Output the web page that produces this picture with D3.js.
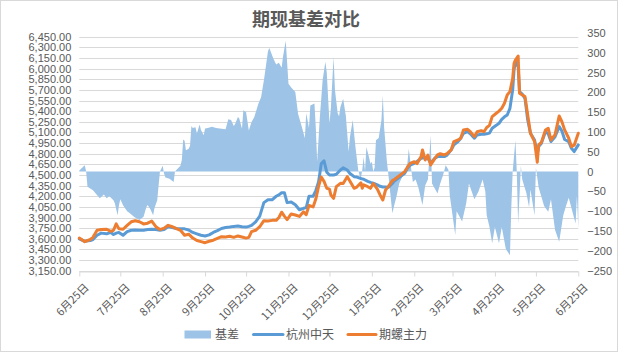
<!DOCTYPE html>
<html>
<head>
<meta charset="utf-8">
<script src="https://cdn.jsdelivr.net/npm/d3@7/dist/d3.min.js"></script>
<style>
  body { margin: 0; background: #fff; }
  text { font-family: "Noto Sans CJK SC", "Liberation Sans", sans-serif; }
  .num text { font-family: "Liberation Sans", Arial, sans-serif; }
</style>
</head>
<body>
<div id="chart"></div>
<script>
// 月度刻度
const monthTicks = ["2020-06-25", "2020-07-25", "2020-08-25", "2020-09-25", "2020-10-25", "2020-11-25",
  "2020-12-25", "2021-01-25", "2021-02-25", "2021-03-25", "2021-04-25", "2021-05-25", "2021-06-25"];

// 杭州中天 / 期螺主力 价格
const lineDates = ["2020-06-25", "2020-06-29", "2020-07-03", "2020-07-05", "2020-07-08", "2020-07-11", "2020-07-15",
  "2020-07-18", "2020-07-20", "2020-07-22", "2020-07-24", "2020-07-27", "2020-07-30", "2020-08-02", "2020-08-05",
  "2020-08-08", "2020-08-11", "2020-08-14", "2020-08-17", "2020-08-20", "2020-08-23", "2020-08-26", "2020-08-29",
  "2020-09-01", "2020-09-04", "2020-09-07", "2020-09-10", "2020-09-13", "2020-09-16", "2020-09-19", "2020-09-22",
  "2020-09-25", "2020-09-28", "2020-10-01", "2020-10-04", "2020-10-07", "2020-10-10", "2020-10-13", "2020-10-16",
  "2020-10-19", "2020-10-22", "2020-10-25", "2020-10-27", "2020-10-29", "2020-11-01", "2020-11-04", "2020-11-07",
  "2020-11-10", "2020-11-13", "2020-11-16", "2020-11-18", "2020-11-20", "2020-11-22", "2020-11-24", "2020-11-27",
  "2020-11-30", "2020-12-03", "2020-12-06", "2020-12-08", "2020-12-10", "2020-12-13", "2020-12-15", "2020-12-17",
  "2020-12-19", "2020-12-21", "2020-12-23", "2020-12-25", "2020-12-26", "2020-12-28", "2020-12-30", "2021-01-02",
  "2021-01-04", "2021-01-07", "2021-01-09", "2021-01-12", "2021-01-14", "2021-01-17", "2021-01-18", "2021-01-19",
  "2021-01-22", "2021-01-24", "2021-01-26", "2021-01-29", "2021-01-31", "2021-02-02", "2021-02-04", "2021-02-06",
  "2021-02-09", "2021-02-10", "2021-02-18", "2021-02-20", "2021-02-22", "2021-02-25", "2021-02-27", "2021-03-02",
  "2021-03-03", "2021-03-05", "2021-03-07", "2021-03-09", "2021-03-12", "2021-03-14", "2021-03-16", "2021-03-19",
  "2021-03-21", "2021-03-24", "2021-03-26", "2021-03-29", "2021-03-31", "2021-04-02", "2021-04-05", "2021-04-07",
  "2021-04-10", "2021-04-12", "2021-04-15", "2021-04-17", "2021-04-19", "2021-04-21", "2021-04-23", "2021-04-26",
  "2021-04-28", "2021-04-30", "2021-05-02", "2021-05-04", "2021-05-06", "2021-05-08", "2021-05-09", "2021-05-10",
  "2021-05-12", "2021-05-13", "2021-05-15", "2021-05-17", "2021-05-19", "2021-05-21", "2021-05-24", "2021-05-26",
  "2021-05-27", "2021-05-29", "2021-06-01", "2021-06-03", "2021-06-05", "2021-06-08", "2021-06-11", "2021-06-13",
  "2021-06-15", "2021-06-18", "2021-06-20", "2021-06-22", "2021-06-25"];

const hzzt = [3600, 3565, 3575, 3590, 3650, 3680, 3670, 3690, 3660, 3680, 3690, 3650, 3700, 3720, 3725,
  3720, 3720, 3730, 3735, 3730, 3720, 3730, 3770, 3760, 3745, 3740, 3740, 3725, 3690, 3670, 3650,
  3640, 3655, 3690, 3715, 3745, 3760, 3765, 3775, 3780, 3770, 3765, 3775, 3790, 3840, 3920, 4110,
  4150, 4150, 4200, 4220, 4250, 4250, 4110, 4120, 4080, 4010, 4030, 4040, 4200, 4200, 4280, 4400,
  4660, 4700, 4540, 4500, 4500, 4500, 4510, 4570, 4600, 4570, 4520, 4476, 4470, 4450, 4445, 4440,
  4410, 4395, 4385, 4360, 4340, 4330, 4330, 4326, 4380, 4406, 4523, 4594, 4640, 4665, 4690, 4735,
  4740, 4745, 4735, 4665, 4735, 4759, 4765, 4759, 4780, 4853, 4924, 4971, 5018, 5088, 5112, 5080,
  5018, 5065, 5075, 5075, 5080, 5090, 5159, 5200, 5229, 5285, 5320, 5346, 5440, 5700, 5981, 6098,
  6027, 5675, 5640, 5581, 5276, 5088, 4994, 4800, 4900, 4947, 5112, 5080, 4971, 5040, 5182, 5120,
  5000, 4971, 4876, 4830, 4924];

const qlzl = [3610, 3560, 3590, 3620, 3720, 3730, 3735, 3705, 3720, 3810, 3740, 3735, 3790, 3840, 3855,
  3840, 3810, 3820, 3850, 3770, 3730, 3750, 3790, 3770, 3745, 3720, 3650, 3665, 3610, 3575, 3560,
  3545, 3565, 3580, 3605, 3630, 3625, 3635, 3620, 3640, 3625, 3610, 3620, 3700, 3720, 3770, 3855,
  3850, 3860, 3860, 3900, 3975, 3920, 3870, 3950, 3935, 3915, 3980, 3940, 4070, 4050, 4160, 4340,
  4470, 4410, 4312, 4300, 4218, 4171, 4335, 4382, 4380, 4476, 4410, 4312, 4330, 4390, 4312, 4360,
  4335, 4312, 4380, 4300, 4218, 4147, 4288, 4335, 4420, 4430, 4547, 4610, 4665, 4688, 4660, 4759,
  4853, 4712, 4780, 4641, 4730, 4782, 4800, 4782, 4800, 4853, 4971, 4994, 5018, 5135, 5144, 5110,
  5041, 5110, 5125, 5110, 5170, 5200, 5323, 5370, 5400, 5440, 5511, 5628, 5675, 5863, 6075, 6120,
  6178, 5652, 5628, 5605, 5346, 5088, 4971, 4680, 4924, 4960, 5135, 5159, 4994, 5070, 5332, 5252,
  5135, 5018, 4900, 4920, 5088];

// 基差（右轴）
const basisDates = ["2020-06-25", "2020-06-29", "2020-06-30", "2020-07-01", "2020-07-05", "2020-07-07", "2020-07-10",
  "2020-07-13", "2020-07-15", "2020-07-17", "2020-07-20", "2020-07-21", "2020-07-23", "2020-07-24", "2020-07-25",
  "2020-07-27", "2020-07-30", "2020-08-01", "2020-08-04", "2020-08-06", "2020-08-08", "2020-08-11", "2020-08-13",
  "2020-08-14", "2020-08-16", "2020-08-18", "2020-08-19", "2020-08-21", "2020-08-22", "2020-08-23", "2020-08-25",
  "2020-08-26", "2020-08-27", "2020-08-30", "2020-09-02", "2020-09-03", "2020-09-04", "2020-09-07", "2020-09-08",
  "2020-09-09", "2020-09-10", "2020-09-11", "2020-09-13", "2020-09-14", "2020-09-15", "2020-09-16", "2020-09-18",
  "2020-09-19", "2020-09-21", "2020-09-22", "2020-09-24", "2020-09-25", "2020-09-27", "2020-09-30", "2020-10-03",
  "2020-10-10", "2020-10-12", "2020-10-14", "2020-10-16", "2020-10-17", "2020-10-19", "2020-10-20", "2020-10-22",
  "2020-10-23", "2020-10-25", "2020-10-27", "2020-10-29", "2020-10-31", "2020-11-03", "2020-11-05", "2020-11-07",
  "2020-11-08", "2020-11-10", "2020-11-11", "2020-11-14", "2020-11-16", "2020-11-18", "2020-11-20", "2020-11-21",
  "2020-11-23", "2020-11-25", "2020-11-27", "2020-11-30", "2020-12-02", "2020-12-05", "2020-12-07", "2020-12-08",
  "2020-12-10", "2020-12-11", "2020-12-14", "2020-12-15", "2020-12-16", "2020-12-18", "2020-12-20", "2020-12-22",
  "2020-12-23", "2020-12-25", "2020-12-26", "2020-12-28", "2020-12-29", "2020-12-31", "2021-01-01", "2021-01-02",
  "2021-01-04", "2021-01-06", "2021-01-08", "2021-01-09", "2021-01-11", "2021-01-13", "2021-01-15", "2021-01-16",
  "2021-01-17", "2021-01-18", "2021-01-19", "2021-01-20", "2021-01-21", "2021-01-23", "2021-01-24", "2021-01-25",
  "2021-01-26", "2021-01-27", "2021-01-28", "2021-01-30", "2021-02-01", "2021-02-02", "2021-02-03", "2021-02-05",
  "2021-02-06", "2021-02-07", "2021-02-09", "2021-02-10", "2021-02-12", "2021-02-14", "2021-02-16", "2021-02-18",
  "2021-02-20", "2021-02-21", "2021-02-23", "2021-02-24", "2021-02-26", "2021-02-28", "2021-03-03", "2021-03-05",
  "2021-03-07", "2021-03-09", "2021-03-10", "2021-03-14", "2021-03-16", "2021-03-18", "2021-03-20", "2021-03-22",
  "2021-03-23", "2021-03-27", "2021-03-28", "2021-04-01", "2021-04-04", "2021-04-06", "2021-04-10", "2021-04-13",
  "2021-04-16", "2021-04-18", "2021-04-19", "2021-04-21", "2021-04-23", "2021-04-25", "2021-04-28", "2021-04-30",
  "2021-05-03", "2021-05-06", "2021-05-07", "2021-05-08", "2021-05-10", "2021-05-11", "2021-05-12", "2021-05-13",
  "2021-05-14", "2021-05-15", "2021-05-18", "2021-05-20", "2021-05-21", "2021-05-24", "2021-05-25", "2021-05-27",
  "2021-05-31", "2021-06-03", "2021-06-05", "2021-06-08", "2021-06-11", "2021-06-14", "2021-06-16", "2021-06-18",
  "2021-06-23", "2021-06-24", "2021-06-25"];

const basis = [3, 16, 0, -38, -47, -55, -67,
  -58, -67, -62, -72, -80, -110, -85, -70,
  -85, -100, -105, -114, -118, -122, -114, -90,
  -84, -95, -110, -92, -72, -35, 0, 15,
  -5, -15, -18, -26, 0, 4, 15, 29,
  81, 78, 54, 58, 65, 115, 110, 112,
  96, 119, 105, 92, 109, 110, 113, 110,
  107, 132, 130, 115, 120, 138, 134, 108,
  155, 150, 104, 125, 138, 171, 188, 230,
  254, 304, 312, 285, 270, 275, 262, 290,
  330, 222, 212, 201, 146, 110, 84, 147,
  110, 167, 172, 110, 25, 140, 231, 277,
  250, 122, 160, 289, 206, 147, 140, 163,
  184, 140, 50, 88, 130, 62, 4, -9,
  -16, 5, 37, 0, 62, 35, 20, 25,
  0, 10, 79, 85, 130, 192, 110, 25,
  -5, -38, -105, -90, -63, -30, -15, 0,
  21, 58, 0, -26, -20, -40, -84, -35,
  -20, 92, -30, -55, -30, -10, 16, 5,
  -60, -160, -100, -126, -80, -30, -70, -50,
  -20, -50, -110, -139, -181, -140, -181, -140,
  -195, -211, -90, 0, 79, 0, -131, -60,
  15, -20, -54, -90, -45, -110, 10, -40,
  -87, -101, -70, -147, -177, -110, -87, -66,
  -131, -60, -143];

const leftTicks = d3.range(3150, 6451, 150);
const rightTicks = d3.range(-250, 351, 50);

const width = 618, height = 352;
const plot = { left: 79.3, right: 578.3, top: 36.7, bottom: 270.7 };
const parse = d3.utcParse("%Y-%m-%d");

const svg = d3.select("#chart").append("svg")
  .attr("width", width)
  .attr("height", height);

// 边框
svg.append("rect")
  .attr("x", 0.5).attr("y", 0.5)
  .attr("width", width - 1).attr("height", height - 1)
  .attr("fill", "#fff").attr("stroke", "#d9d9d9");

const x = d3.scaleUtc()
  .domain([parse(monthTicks[0]), parse(monthTicks[monthTicks.length - 1])])
  .range([plot.left, plot.right]);
const y = d3.scaleLinear().domain([3150, 6450]).range([plot.bottom, plot.top]);
const y2 = d3.scaleLinear().domain([-250, 350]).range([plot.bottom, 32.9]);

// 网格线
svg.append("g")
  .selectAll("line")
  .data(leftTicks)
  .enter().append("line")
  .attr("x1", plot.left).attr("x2", plot.right)
  .attr("y1", d => Math.round(y(d)) + 0.5).attr("y2", d => Math.round(y(d)) + 0.5)
  .attr("stroke", "#d9d9d9").attr("stroke-width", 1);

// 基差面积
const basisData = basisDates.map((d, i) => ({ date: parse(d), v: basis[i] }));
const area = d3.area()
  .x(d => x(d.date))
  .y0(y2(0))
  .y1(d => y2(d.v));
svg.append("path")
  .datum(basisData)
  .attr("d", area)
  .attr("fill", "#9dc3e6");

// 左轴
const yAxis = svg.append("g")
  .attr("class", "num")
  .attr("transform", `translate(${plot.left - 4},0)`)
  .call(d3.axisLeft(y).tickValues(leftTicks).tickFormat(d3.format(",.2f")).tickSize(0).tickPadding(4));
yAxis.select(".domain").remove();
yAxis.selectAll("text").attr("fill", "#595959").style("font-size", "11px");

// 右轴
const y2Axis = svg.append("g")
  .attr("class", "num")
  .attr("transform", `translate(${plot.right + 5},0)`)
  .call(d3.axisRight(y2).tickValues(rightTicks).tickSize(0).tickPadding(4));
y2Axis.select(".domain").remove();
y2Axis.selectAll("text").attr("fill", "#595959").style("font-size", "11px");

// X轴
const xAxis = svg.append("g")
  .attr("transform", `translate(0,${Math.round(plot.bottom) + 0.5})`)
  .call(d3.axisBottom(x).tickValues(monthTicks.map(parse))
    .tickFormat(d3.utcFormat("%-m月%-d日")).tickSize(5).tickSizeOuter(0));
xAxis.select(".domain").attr("stroke", "#d9d9d9");
xAxis.selectAll(".tick line").attr("stroke", "#d9d9d9");
xAxis.selectAll("text")
  .attr("fill", "#595959")
  .style("font-size", "11px")
  .attr("text-anchor", "end")
  .attr("dx", 0).attr("dy", 0)
  .attr("transform", "translate(4,11) rotate(-45)");

// 价格线
const line = d3.line()
  .x(d => x(d.date))
  .y(d => y(d.v));
const seriesList = [
  { name: "杭州中天", values: hzzt, color: "#5b9bd5" },
  { name: "期螺主力", values: qlzl, color: "#ed7d31" }
];
seriesList.forEach(s => {
  svg.append("path")
    .datum(lineDates.map((d, i) => ({ date: parse(d), v: s.values[i] })))
    .attr("d", line)
    .attr("fill", "none")
    .attr("stroke", s.color)
    .attr("stroke-width", 3)
    .attr("stroke-linejoin", "round")
    .attr("stroke-linecap", "round");
});

// 标题
svg.append("text")
  .attr("x", 306).attr("y", 26)
  .attr("text-anchor", "middle")
  .attr("fill", "#595959")
  .style("font-size", "18px")
  .style("font-weight", "bold")
  .text("期现基差对比");

// 图例
const legend = svg.append("g");
legend.append("rect")
  .attr("x", 184.5).attr("y", 330.5).attr("width", 26.5).attr("height", 8)
  .attr("fill", "#9dc3e6");
legend.append("text").attr("x", 215).attr("y", 339).text("基差");
legend.append("line")
  .attr("x1", 253.5).attr("x2", 283).attr("y1", 334.5).attr("y2", 334.5)
  .attr("stroke", "#5b9bd5").attr("stroke-width", 3).attr("stroke-linecap", "round");
legend.append("text").attr("x", 286).attr("y", 339).text("杭州中天");
legend.append("line")
  .attr("x1", 348).attr("x2", 376).attr("y1", 334.5).attr("y2", 334.5)
  .attr("stroke", "#ed7d31").attr("stroke-width", 3).attr("stroke-linecap", "round");
legend.append("text").attr("x", 379).attr("y", 339).text("期螺主力");
legend.selectAll("text").attr("fill", "#595959").style("font-size", "12px");
</script>
</body>
</html>
